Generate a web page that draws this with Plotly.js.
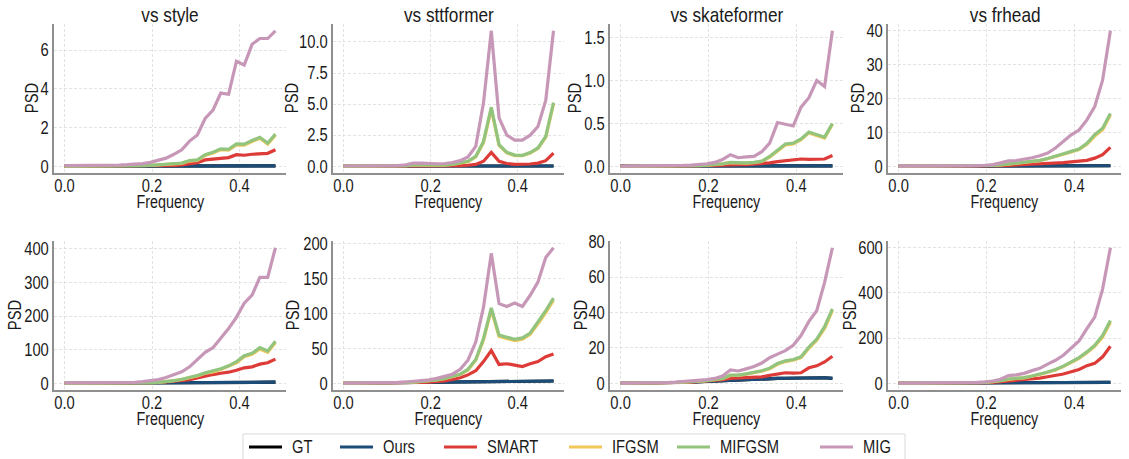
<!DOCTYPE html>
<html>
<head>
<meta charset="utf-8">
<script src="https://cdn.plot.ly/plotly-3.0.1.min.js"></script>
<style>html,body{margin:0;padding:0;background:#fff;overflow:hidden;}#chart{width:1129px;height:459px;}</style>
</head>
<body>
<div id="chart"></div>
<script>
// ---------------- DATA ----------------
const FREQ = [0, 0.0179, 0.0357, 0.0536, 0.0714, 0.0893, 0.1071, 0.125, 0.1429, 0.1607, 0.1786, 0.1964, 0.2143, 0.2321,
              0.25, 0.2679, 0.2857, 0.3036, 0.3214, 0.3393, 0.3571, 0.375, 0.3929, 0.4107, 0.4286, 0.4464, 0.4643, 0.4821];
const PANEL_TITLES = ['vs style', 'vs sttformer', 'vs skateformer', 'vs frhead'];
const SERIES_NAMES = ['GT', 'Ours', 'SMART', 'IFGSM', 'MIFGSM', 'MIG'];
const X_TICKS = [0, 0.2, 0.4];
const X_LABEL = 'Frequency';
const Y_LABEL = 'PSD';

// Row 1 -- vs style
const top_style_GT     = [0.01,0.01,0.01,0.01,0.01,0.01,0.01,0.01,0.01,0.01,0.01,0.012,0.012,0.012,0.013,0.013,0.014,0.014,0.015,0.015,0.015,0.016,0.016,0.016,0.017,0.017,0.018,0.018];
const top_style_Ours   = [0.01,0.01,0.01,0.01,0.01,0.01,0.01,0.01,0.01,0.01,0.01,0.012,0.012,0.012,0.013,0.013,0.014,0.014,0.015,0.015,0.015,0.016,0.016,0.016,0.017,0.017,0.018,0.018];
const top_style_SMART  = [0.002,0.002,0.002,0.002,0.002,0.003,0.003,0.004,0.005,0.006,0.008,0.01,0.015,0.025,0.04,0.07,0.13,0.18,0.33,0.36,0.42,0.45,0.6,0.57,0.62,0.64,0.67,0.85];
const top_style_IFGSM  = [0.005,0.005,0.005,0.005,0.005,0.007,0.009,0.011,0.014,0.018,0.027,0.045,0.065,0.09,0.12,0.15,0.27,0.3,0.56,0.68,0.86,0.84,1.1,1.09,1.28,1.45,1.15,1.6];
const top_style_MIFGSM = [0.005,0.005,0.005,0.005,0.005,0.008,0.01,0.012,0.015,0.02,0.03,0.05,0.07,0.1,0.13,0.17,0.3,0.33,0.6,0.72,0.9,0.88,1.16,1.14,1.33,1.5,1.2,1.66];
const top_style_MIG    = [0.03,0.03,0.03,0.03,0.035,0.04,0.05,0.06,0.08,0.1,0.14,0.2,0.3,0.42,0.62,0.85,1.3,1.62,2.47,2.9,3.78,3.72,5.42,5.23,6.3,6.6,6.6,7.0];

// Row 1 -- vs sttformer
const top_stt_GT     = [0.02,0.02,0.02,0.02,0.02,0.02,0.02,0.02,0.02,0.02,0.02,0.02,0.02,0.02,0.02,0.02,0.02,0.02,0.02,0.02,0.02,0.02,0.02,0.02,0.02,0.02,0.02,0.02];
const top_stt_Ours   = [0.02,0.02,0.02,0.02,0.02,0.02,0.02,0.02,0.02,0.02,0.02,0.02,0.02,0.02,0.02,0.02,0.02,0.02,0.02,0.02,0.02,0.02,0.02,0.02,0.02,0.02,0.02,0.02];
const top_stt_SMART  = [0.002,0.002,0.002,0.002,0.003,0.003,0.004,0.005,0.006,0.008,0.008,0.008,0.01,0.012,0.02,0.05,0.08,0.15,0.4,1.12,0.4,0.22,0.15,0.15,0.18,0.25,0.45,1.05];
const top_stt_IFGSM  = [0.008,0.008,0.008,0.008,0.008,0.01,0.012,0.015,0.045,0.09,0.09,0.075,0.075,0.09,0.14,0.23,0.37,0.75,1.9,4.6,1.68,1.08,0.86,0.85,1.06,1.42,2.32,5.0];
const top_stt_MIFGSM = [0.01,0.01,0.01,0.01,0.01,0.012,0.015,0.02,0.05,0.1,0.1,0.08,0.08,0.1,0.15,0.25,0.4,0.8,2.0,4.75,1.74,1.12,0.9,0.88,1.1,1.47,2.4,5.12];
const top_stt_MIG    = [0.02,0.02,0.02,0.02,0.03,0.03,0.04,0.05,0.12,0.25,0.25,0.2,0.2,0.22,0.3,0.45,0.75,1.6,5.1,10.9,3.9,2.5,2.1,2.1,2.5,3.2,5.3,10.9];

// Row 1 -- vs skateformer
const top_skate_GT     = [0.004,0.004,0.004,0.004,0.004,0.004,0.004,0.004,0.005,0.005,0.005,0.005,0.005,0.005,0.005,0.005,0.005,0.005,0.005,0.005,0.005,0.005,0.005,0.005,0.005,0.005,0.005,0.005];
const top_skate_Ours   = [0.004,0.004,0.004,0.004,0.004,0.004,0.004,0.004,0.005,0.005,0.005,0.005,0.005,0.005,0.005,0.005,0.005,0.005,0.005,0.005,0.005,0.005,0.005,0.005,0.005,0.005,0.005,0.005];
const top_skate_SMART  = [0.001,0.001,0.001,0.001,0.001,0.002,0.002,0.002,0.003,0.004,0.005,0.007,0.01,0.015,0.02,0.02,0.02,0.025,0.03,0.04,0.055,0.065,0.075,0.085,0.08,0.085,0.085,0.125];
const top_skate_IFGSM  = [0.001,0.001,0.001,0.001,0.002,0.002,0.003,0.004,0.005,0.007,0.009,0.014,0.019,0.028,0.042,0.037,0.037,0.042,0.056,0.108,0.18,0.25,0.26,0.31,0.39,0.36,0.33,0.49];
const top_skate_MIFGSM = [0.001,0.001,0.001,0.001,0.002,0.002,0.003,0.004,0.005,0.007,0.01,0.015,0.02,0.03,0.045,0.04,0.04,0.045,0.06,0.115,0.19,0.26,0.27,0.32,0.4,0.37,0.34,0.5];
const top_skate_MIG    = [0.002,0.002,0.003,0.003,0.004,0.005,0.006,0.008,0.01,0.013,0.02,0.03,0.045,0.08,0.135,0.1,0.11,0.115,0.17,0.27,0.51,0.49,0.47,0.69,0.8,1.0,0.93,1.58];

// Row 1 -- vs frhead
const top_fr_GT     = [0.05,0.05,0.05,0.05,0.06,0.06,0.06,0.07,0.07,0.08,0.08,0.09,0.09,0.1,0.1,0.1,0.11,0.11,0.12,0.12,0.12,0.13,0.13,0.13,0.14,0.14,0.15,0.15];
const top_fr_Ours   = [0.05,0.05,0.05,0.05,0.06,0.06,0.06,0.07,0.07,0.08,0.08,0.09,0.09,0.1,0.1,0.1,0.11,0.11,0.12,0.12,0.12,0.13,0.13,0.13,0.14,0.14,0.15,0.15];
const top_fr_SMART  = [0.01,0.01,0.01,0.01,0.015,0.015,0.02,0.02,0.03,0.04,0.05,0.08,0.12,0.18,0.25,0.35,0.45,0.55,0.65,0.8,0.95,1.1,1.3,1.5,1.75,2.4,3.4,5.6];
const top_fr_IFGSM  = [0.02,0.02,0.02,0.02,0.03,0.03,0.04,0.05,0.06,0.08,0.1,0.14,0.23,0.38,0.66,0.95,1.14,1.38,1.66,2.2,2.78,3.55,4.2,4.9,6.5,8.9,10.8,15.1];
const top_fr_MIFGSM = [0.02,0.02,0.02,0.02,0.03,0.03,0.04,0.05,0.06,0.08,0.1,0.15,0.25,0.4,0.7,1.0,1.2,1.45,1.75,2.3,2.9,3.7,4.4,5.1,6.8,9.3,11.2,15.6];
const top_fr_MIG    = [0.05,0.05,0.05,0.06,0.06,0.07,0.08,0.1,0.12,0.15,0.2,0.3,0.5,1.0,1.6,1.7,2.0,2.5,3.1,3.9,5.4,7.2,9.3,10.7,13.7,17.6,25.4,40.0];

// Row 2 -- vs style
const bot_style_GT     = [0.2,0.3,0.4,0.5,0.6,0.7,0.8,0.9,1.0,1.2,1.4,1.6,1.8,2.0,2.2,2.4,2.5,2.6,2.7,2.8,2.9,3.0,3.0,3.1,3.1,3.2,3.2,3.3];
const bot_style_Ours   = [0.2,0.3,0.4,0.5,0.6,0.7,0.8,0.9,1.0,1.2,1.4,1.6,1.8,2.0,2.2,2.4,2.5,2.6,2.7,2.8,2.9,3.0,3.0,3.1,3.1,3.2,3.2,3.3];
const bot_style_SMART  = [0.2,0.2,0.2,0.2,0.3,0.3,0.3,0.4,0.5,0.7,1.0,1.5,2.5,4,6,8,11,16,22,26,30,33,39,46,49,57,61,72];
const bot_style_IFGSM  = [0.3,0.3,0.3,0.3,0.4,0.4,0.5,0.6,0.8,1.0,1.4,1.9,2.8,4.7,7.5,11.4,16,22,30,34,41,50,61,79,86,102,92,121];
const bot_style_MIFGSM = [0.3,0.3,0.3,0.3,0.4,0.4,0.5,0.6,0.8,1.0,1.5,2,3,5,8,12,17,23,31,36,43,52,64,82,89,106,96,125];
const bot_style_MIG    = [1,1,1,1,1.2,1.3,1.5,1.8,2.2,3,5,7,11,17,25,34,49,69,92,106,135,163,196,238,262,315,315,403];

// Row 2 -- vs sttformer
const bot_stt_GT     = [0.1,0.2,0.3,0.4,0.6,0.8,1.0,1.2,1.4,1.6,1.8,2.0,2.2,2.4,2.6,2.7,2.8,2.9,3.0,3.0,3.1,3.1,3.1,3.2,3.2,3.2,3.3,3.3];
const bot_stt_Ours   = [0.1,0.2,0.3,0.4,0.6,0.8,1.0,1.2,1.4,1.6,1.8,2.0,2.2,2.4,2.6,2.7,2.8,2.9,3.0,3.0,3.1,3.1,3.1,3.2,3.2,3.2,3.3,3.3];
const bot_stt_SMART  = [0.1,0.1,0.1,0.2,0.2,0.3,0.4,0.5,0.7,0.9,1.2,1.8,2.5,3.5,5.5,8,12,18,31,47,27,28,26,24,28,31,38,42];
const bot_stt_IFGSM  = [0.2,0.2,0.2,0.3,0.4,0.5,0.7,0.9,1.2,1.7,2.4,3.3,4.8,6.7,9.1,12.5,19,33,62,105,67,64,61,63,70,85,101,119];
const bot_stt_MIFGSM = [0.2,0.2,0.2,0.3,0.4,0.5,0.7,0.9,1.3,1.8,2.5,3.5,5,7,9.5,13,20,34,64,108,69,66,63,65,72,88,104,122];
const bot_stt_MIG    = [0.3,0.3,0.4,0.5,0.5,0.7,1.0,1.3,1.9,2.6,3.6,5,7,10,13,20,33,59,109,186,114,110,115,110,126,145,180,194];

// Row 2 -- vs skateformer
const bot_skate_GT     = [0.1,0.1,0.15,0.2,0.25,0.3,0.4,0.5,0.6,0.8,1.0,1.2,1.4,1.7,2.0,2.2,2.3,2.5,2.6,2.7,2.8,2.9,3.0,3.0,3.1,2.9,3.2,2.8];
const bot_skate_Ours   = [0.1,0.1,0.15,0.2,0.25,0.3,0.4,0.5,0.6,0.8,1.0,1.2,1.4,1.7,2.0,2.2,2.3,2.5,2.6,2.7,2.8,2.9,3.0,3.0,3.1,2.9,3.2,2.8];
const bot_skate_SMART  = [0.1,0.1,0.1,0.15,0.2,0.25,0.3,0.4,0.5,0.7,1.0,1.3,1.6,2.1,2.8,3.0,3.2,3.4,3.7,4.5,5.4,6.0,5.8,6.0,8.8,9.9,12.1,15.3];
const bot_skate_IFGSM  = [0.1,0.1,0.1,0.15,0.2,0.3,0.4,0.5,0.7,0.9,1.2,1.5,2.1,2.7,4.5,4.5,5.2,6.0,6.9,8.3,10.8,12.3,13.1,14.5,19.9,24.3,31,41];
const bot_skate_MIFGSM = [0.1,0.1,0.1,0.15,0.2,0.3,0.4,0.5,0.7,0.9,1.3,1.6,2.2,2.8,4.7,4.7,5.4,6.2,7.1,8.6,11.2,12.7,13.5,15,20.5,25,32,42];
const bot_skate_MIG    = [0.2,0.2,0.2,0.25,0.3,0.35,0.5,0.7,1.0,1.3,1.7,2.1,2.8,4.2,7.6,7.0,8.2,9.5,11.5,14.5,16.5,18.5,21.5,27,35,41,57,76.5];

// Row 2 -- vs frhead
const bot_fr_GT     = [0.3,0.4,0.5,0.6,0.7,0.8,0.9,1.0,1.2,1.4,1.6,1.8,2.0,2.2,2.4,2.6,2.8,3.0,3.1,3.2,3.3,3.4,3.5,3.6,3.7,3.8,3.9,4.0];
const bot_fr_Ours   = [0.3,0.4,0.5,0.6,0.7,0.8,0.9,1.0,1.2,1.4,1.6,1.8,2.0,2.2,2.4,2.6,2.8,3.0,3.1,3.2,3.3,3.4,3.5,3.6,3.7,3.8,3.9,4.0];
const bot_fr_SMART  = [0.2,0.2,0.3,0.3,0.4,0.5,0.6,0.8,1.0,1.3,1.8,2.5,4,7,10,12,15,19,23,29,35,41,51,61,78,88,117,164];
const bot_fr_IFGSM  = [0.4,0.4,0.5,0.5,0.6,0.8,1.0,1.3,1.6,2.0,2.9,3.9,6.8,11.6,18.4,21.3,24.2,31,38.8,48.5,59,73.7,92,110,135,163,205,270];
const bot_fr_MIFGSM = [0.4,0.4,0.5,0.5,0.6,0.8,1.0,1.3,1.6,2.0,3,4,7,12,19,22,25,32,40,50,61,76,95,114,139,168,212,278];
const bot_fr_MIG    = [1,1,1,1.2,1.4,1.6,2,2.5,3,3.5,4,6,10,18,34,37,44,56,66,85,102,124,154,187,242,293,417,600];

// panel order: row 1 then row 2
const PANEL_DATA = [
  [top_style_GT, top_style_Ours, top_style_SMART, top_style_IFGSM, top_style_MIFGSM, top_style_MIG],
  [top_stt_GT, top_stt_Ours, top_stt_SMART, top_stt_IFGSM, top_stt_MIFGSM, top_stt_MIG],
  [top_skate_GT, top_skate_Ours, top_skate_SMART, top_skate_IFGSM, top_skate_MIFGSM, top_skate_MIG],
  [top_fr_GT, top_fr_Ours, top_fr_SMART, top_fr_IFGSM, top_fr_MIFGSM, top_fr_MIG],
  [bot_style_GT, bot_style_Ours, bot_style_SMART, bot_style_IFGSM, bot_style_MIFGSM, bot_style_MIG],
  [bot_stt_GT, bot_stt_Ours, bot_stt_SMART, bot_stt_IFGSM, bot_stt_MIFGSM, bot_stt_MIG],
  [bot_skate_GT, bot_skate_Ours, bot_skate_SMART, bot_skate_IFGSM, bot_skate_MIFGSM, bot_skate_MIG],
  [bot_fr_GT, bot_fr_Ours, bot_fr_SMART, bot_fr_IFGSM, bot_fr_MIFGSM, bot_fr_MIG]
];
const Y_DTICK  = [2, 2.5, 0.5, 10, 100, 50, 20, 200];
const Y_FORMAT = ['d', '.1f', '.1f', 'd', 'd', 'd', 'd', 'd'];

// ---------------- STYLE / LAYOUT ----------------
const COLORS = ['#000000', '#1c4d78', '#dc3b38', '#f2c85b', '#93c47d', '#c797b8'];
const W = 1129, H = 459;
const COL_PX = [[54, 286], [333, 564], [610, 843], [888, 1121]];
const ROW_PX = [[24, 173], [241, 390]];
const PSD_OFFSET = [22, 41, 35, 30, 39, 40, 29, 38];   // px left of the y spine (label centre)
const FREQ_OFFSET = 29;                                 // px below the x spine (label centre)
const XTICK_LIFT = 4;                                   // px to raise the x tick labels
const FONT = 'Liberation Sans, Arial, Helvetica, sans-serif';
const TXT = '#1a1a1a';
const NARROW = 0.82;                                    // horizontal squeeze of glyphs (reference text is narrow)
// hand-placed legend (pixel positions)
const LEG_BOX = [243, 434, 905, 475];
const LEG_LINE_X = [249, 340, 444, 569, 677, 820];
const LEG_LINE_LEN = 33;
const LEG_TEXT_GAP = 9;
const LEG_Y = 447;

const traces = [];
const layout = {
  width: W, height: H,
  margin: {l: 0, r: 0, t: 0, b: 0},
  paper_bgcolor: '#ffffff', plot_bgcolor: '#ffffff',
  font: {family: FONT, size: 18, color: TXT},
  showlegend: false,
  annotations: [], shapes: []
};

for (let p = 0; p < 8; p++) {
  const col = p % 4, row = Math.floor(p / 4);
  const n = p + 1;
  const xs = n === 1 ? 'x' : 'x' + n;
  const ys = n === 1 ? 'y' : 'y' + n;
  const data = PANEL_DATA[p];
  let mn = Infinity, mx = -Infinity;
  data.forEach(arr => arr.forEach(v => { mn = Math.min(mn, v); mx = Math.max(mx, v); }));
  const pad = 0.05 * (mx - mn);
  const fMin = Math.min(...FREQ), fMax = Math.max(...FREQ), fPad = 0.05 * (fMax - fMin);

  data.forEach((arr, s) => {
    traces.push({
      type: 'scatter', mode: 'lines', x: FREQ, y: arr,
      xaxis: xs, yaxis: ys, name: SERIES_NAMES[s], showlegend: false,
      line: {color: COLORS[s], width: 3.2}, hoverinfo: 'skip'
    });
  });

  const xd = [COL_PX[col][0] / W, COL_PX[col][1] / W];
  const yd = [1 - ROW_PX[row][1] / H, 1 - ROW_PX[row][0] / H];
  const common = {
    ticks: '', showline: true, linecolor: '#8f8f8f', linewidth: 1.6,
    showgrid: true, gridcolor: '#dcdcdc', gridwidth: 0.8, griddash: '3px,2px',
    zeroline: false, automargin: false,
    tickfont: {family: FONT, size: 18, color: TXT}
  };
  layout['xaxis' + (n === 1 ? '' : n)] = Object.assign({}, common, {
    domain: xd, anchor: ys, range: [fMin - fPad, fMax + fPad],
    tickvals: X_TICKS, tickformat: '.1f'
  });
  layout['yaxis' + (n === 1 ? '' : n)] = Object.assign({}, common, {
    domain: yd, anchor: xs, range: [mn - pad, mx + pad],
    tick0: 0, dtick: Y_DTICK[p], tickformat: Y_FORMAT[p]
  });
  layout.annotations.push({
    text: X_LABEL, xref: 'paper', yref: 'paper',
    x: (xd[0] + xd[1]) / 2, y: 1 - (ROW_PX[row][1] + FREQ_OFFSET) / H,
    xanchor: 'center', yanchor: 'middle', showarrow: false,
    font: {family: FONT, size: 17.5, color: TXT}
  });
  layout.annotations.push({
    text: Y_LABEL, xref: 'paper', yref: 'paper', textangle: -90,
    x: (COL_PX[col][0] - PSD_OFFSET[p]) / W, y: (yd[0] + yd[1]) / 2,
    xanchor: 'center', yanchor: 'middle', showarrow: false,
    font: {family: FONT, size: 18, color: TXT}
  });
  if (row === 0) {
    layout.annotations.push({
      text: PANEL_TITLES[col], xref: 'paper', yref: 'paper',
      x: (xd[0] + xd[1]) / 2, y: 1 - 15 / H, xanchor: 'center', yanchor: 'middle',
      showarrow: false, font: {family: FONT, size: 21, color: TXT}
    });
  }
}

// legend drawn with shapes + annotations
layout.shapes.push({
  type: 'rect', xref: 'paper', yref: 'paper', layer: 'above',
  x0: LEG_BOX[0] / W, x1: LEG_BOX[2] / W, y0: 1 - LEG_BOX[3] / H, y1: 1 - LEG_BOX[1] / H,
  line: {color: '#d9d9d9', width: 1}, fillcolor: 'rgba(255,255,255,0)'
});
SERIES_NAMES.forEach((name, s) => {
  layout.shapes.push({
    type: 'line', xref: 'paper', yref: 'paper', layer: 'above',
    x0: LEG_LINE_X[s] / W, x1: (LEG_LINE_X[s] + LEG_LINE_LEN) / W,
    y0: 1 - LEG_Y / H, y1: 1 - LEG_Y / H,
    line: {color: COLORS[s], width: 3.2}
  });
  layout.annotations.push({
    text: name, xref: 'paper', yref: 'paper',
    x: (LEG_LINE_X[s] + LEG_LINE_LEN + LEG_TEXT_GAP) / W, y: 1 - LEG_Y / H,
    xanchor: 'left', yanchor: 'middle', showarrow: false, borderpad: 0,
    font: {family: FONT, size: 18, color: TXT}
  });
});

function squeezeText(gd, k) {
  gd.querySelectorAll('svg text').forEach(t => {
    const txt = t.textContent.trim();
    if (!txt) return;
    const bb = t.getBBox();
    const anchor = t.getAttribute('text-anchor') || 'start';
    let ox = bb.x + bb.width / 2;
    const oy = bb.y + bb.height / 2;
    if (SERIES_NAMES.indexOf(txt) >= 0 || anchor === 'start') ox = bb.x;
    else if (anchor === 'end') ox = bb.x + bb.width;
    const cls = ((t.getAttribute('class') || '') + ' ' +
                 ((t.parentNode && t.parentNode.getAttribute && t.parentNode.getAttribute('class')) || ''));
    const isXTick = /\bx\d*tick\b/.test(cls);
    const lift = isXTick ? -XTICK_LIFT : 0;
    const T = t.getAttribute('transform') || '';
    t.setAttribute('transform', 'translate(0,' + lift + ') ' + T + ' translate(' + ox + ',' + oy + ') scale(' + k + ',1) translate(' + (-ox) + ',' + (-oy) + ')');
  });
}

const gd = document.getElementById('chart');
Plotly.newPlot(gd, traces, layout, {displayModeBar: false, staticPlot: true}).then(() => squeezeText(gd, NARROW));
</script>
</body>
</html>
